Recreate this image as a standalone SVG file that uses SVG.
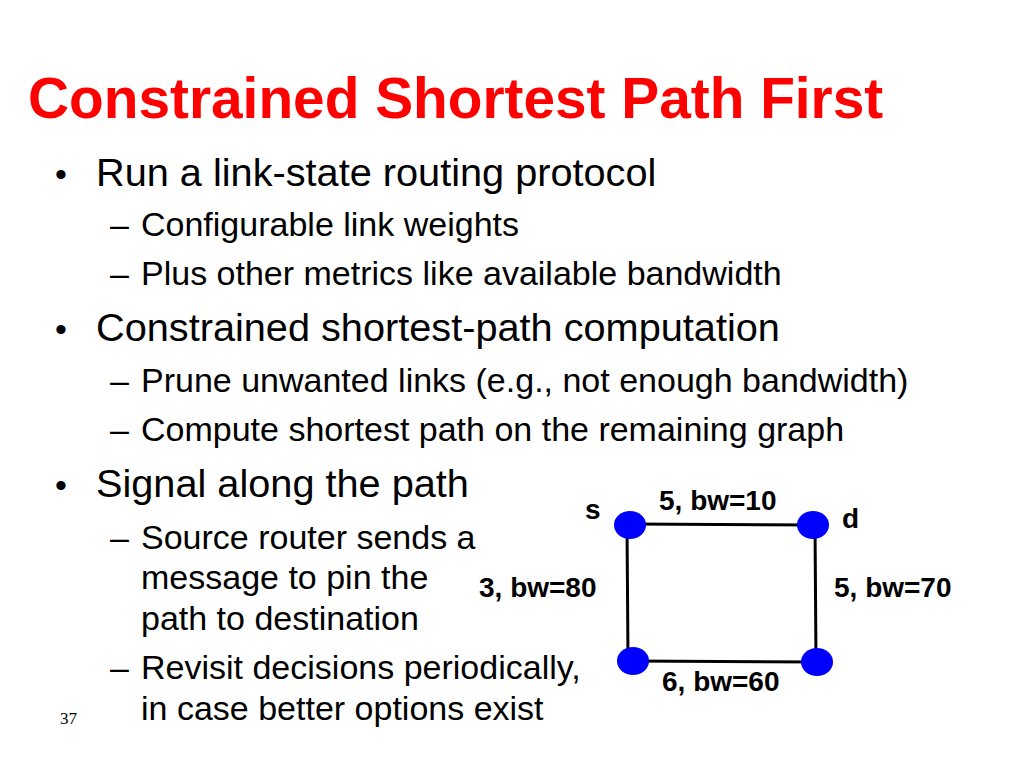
<svg xmlns="http://www.w3.org/2000/svg" width="1024" height="768" viewBox="0 0 1024 768">
<style>
text{font-family:"Liberation Sans",Arial,sans-serif;fill:#000}
.t{font-size:56.8px;font-weight:bold;fill:#f00}
.b{font-size:39.7px}
.s{font-size:34px}
.l{font-size:28px;font-weight:bold}
.e{stroke:#000;stroke-width:3;fill:none}
.n{fill:#00f}
</style>
<rect width="1024" height="768" fill="#fff"/>
<text class="t" x="28" y="118">Constrained Shortest Path First</text>
<text class="s" x="55" y="186">•</text><text class="b" x="96" y="186">Run a link-state routing protocol</text>
<text class="s" x="110" y="236">–</text><text class="s" x="141" y="236">Configurable link weights</text>
<text class="s" x="110" y="285">–</text><text class="s" x="141" y="285">Plus other metrics like available bandwidth</text>
<text class="s" x="55" y="341">•</text><text class="b" x="96" y="341">Constrained shortest-path computation</text>
<text class="s" x="110" y="392">–</text><text class="s" x="141" y="392">Prune unwanted links (e.g., not enough bandwidth)</text>
<text class="s" x="110" y="441">–</text><text class="s" x="141" y="441">Compute shortest path on the remaining graph</text>
<text class="s" x="55" y="497">•</text><text class="b" x="96" y="497">Signal along the path</text>
<text class="s" x="110" y="549">–</text><text class="s" x="141" y="549">Source router sends a</text>
<text class="s" x="141" y="589">message to pin the</text>
<text class="s" x="141" y="630">path to destination</text>
<text class="s" x="110" y="679">–</text><text class="s" x="141" y="679">Revisit decisions periodically,</text>
<text class="s" x="141" y="720">in case better options exist</text>
<text x="60" y="724" style="font-family:'Liberation Serif',serif;font-size:17px">37</text>
<g id="connectors">
<line class="e" x1="630" y1="524" x2="813" y2="525"/>
<line class="e" x1="627" y1="525" x2="628" y2="660"/>
<line class="e" x1="815" y1="525" x2="816" y2="662"/>
<line class="e" x1="633" y1="661" x2="817" y2="662"/>
</g>
<g id="s"><ellipse class="n" cx="630" cy="525" rx="16" ry="14"/><text class="l" x="585" y="519">s</text></g>
<g id="d"><ellipse class="n" cx="813" cy="525" rx="16" ry="14"/><text class="l" x="842" y="528">d</text></g>
<g id="bl"><ellipse class="n" cx="633" cy="661" rx="16" ry="14"/></g>
<g id="br"><ellipse class="n" cx="817" cy="662" rx="16" ry="14"/></g>
<text class="l" x="659" y="510">5, bw=10</text>
<text class="l" x="479" y="597">3, bw=80</text>
<text class="l" x="834" y="597">5, bw=70</text>
<text class="l" x="662" y="691">6, bw=60</text>
</svg>
